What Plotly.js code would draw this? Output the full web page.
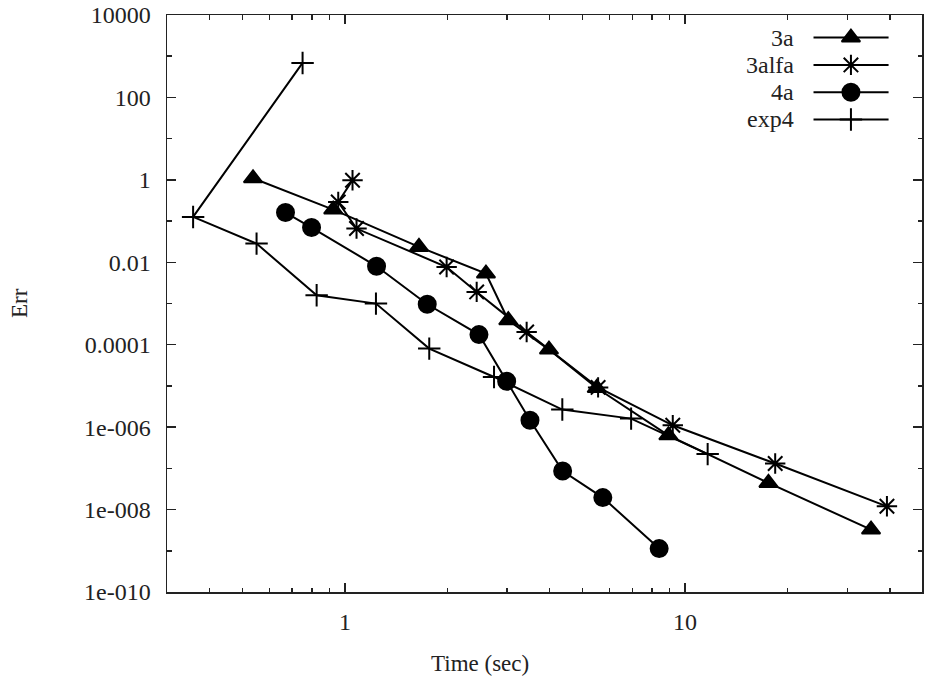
<!DOCTYPE html>
<html>
<head>
<meta charset="utf-8">
<script src="https://cdn.plot.ly/plotly-3.0.1.min.js"></script>
<style>html,body{margin:0;padding:0;background:#fff;}#chart{width:925px;height:684px;}</style>
</head>
<body>
<div id="chart"></div>
<script>
// ---- data ----
var seriesNames = ["3a", "3alfa", "4a", "exp4"];

var t3a   = [0.537, 0.924, 1.651, 2.598, 3.022, 3.98, 5.50, 8.93, 17.58, 35.2];
var err3a = [1.09, 0.190, 0.0236, 0.00532, 3.92e-4, 7.62e-5, 8.9e-6, 6.34e-7, 4.42e-8, 3.27e-9];

var t3alfa   = [1.053, 0.956, 1.082, 1.991, 2.440, 3.422, 5.55, 9.20, 18.40, 39.2];
var err3alfa = [0.977, 0.291, 0.0658, 0.00769, 0.00191, 2.04e-4, 9.2e-6, 1.11e-6, 1.31e-7, 1.20e-8];

var t4a   = [0.669, 0.798, 1.239, 1.746, 2.478, 2.989, 3.50, 4.366, 5.73, 8.39];
var err4a = [0.161, 0.0697, 0.0080, 9.57e-4, 1.76e-4, 1.30e-5, 1.47e-6, 8.63e-8, 1.95e-8, 1.13e-9];

var texp4   = [0.751, 0.358, 0.550, 0.826, 1.234, 1.770, 2.744, 4.356, 6.94, 11.65];
var errexp4 = [687, 0.126, 0.0284, 0.00158, 9.95e-4, 8.05e-5, 1.65e-5, 2.67e-6, 1.61e-6, 2.22e-7];

var xTickVals = [1, 10];
var xTickText = ["1", "10"];
var xMinorVals = [0.4, 0.5, 0.6, 0.7, 0.8, 0.9, 2, 3, 4, 5, 6, 7, 8, 9, 20, 30, 40];
var yTickVals = [1e4, 1e2, 1, 1e-2, 1e-4, 1e-6, 1e-8, 1e-10];
var yTickText = ["10000", "100", "1", "0.01", "0.0001", "1e-006", "1e-008", "1e-010"];
var yMinorVals = [1e3, 1e1, 1e-1, 1e-3, 1e-5, 1e-7, 1e-9];

// ---- styling ----
var FONT = "'Liberation Serif', 'Times New Roman', serif";
var FS = 24;
var FS_TITLE = 23;
var INK = "#000";
var symbols = {
  "3a":    {symbol: "triangle-up", size: 16},
  "3alfa": {symbol: "asterisk-open", size: 17},
  "4a":    {symbol: "circle", size: 17},
  "exp4":  {symbol: "cross-thin-open", size: 16}
};
function mk(name) {
  var s = symbols[name];
  return {symbol: s.symbol, size: s.size, color: INK, line: {color: INK, width: 2}};
}
var xs = {"3a": t3a, "3alfa": t3alfa, "4a": t4a, "exp4": texp4};
var ys = {"3a": err3a, "3alfa": err3alfa, "4a": err4a, "exp4": errexp4};

var traces = seriesNames.map(function (n) {
  return {
    type: "scatter", mode: "lines+markers", name: n,
    x: xs[n], y: ys[n],
    line: {color: INK, width: 2},
    marker: mk(n),
    cliponaxis: false,
    showlegend: false
  };
});

// ---- hand-made legend (gnuplot style: text left, sample right) ----
var L = 167.3, B = 591.7, W = 754.4, H = 577;
var rowsPx = [37.3, 64.6, 91.9, 119.2];
var annotations = [];
seriesNames.forEach(function (n, i) {
  var yy = B - rowsPx[i];
  traces.push({
    type: "scatter", mode: "lines", x: [813.3 - L, 888.3 - L], y: [yy, yy],
    xaxis: "x2", yaxis: "y2", line: {color: INK, width: 2}, showlegend: false, hoverinfo: "skip"
  });
  traces.push({
    type: "scatter", mode: "markers", x: [850.7 - L], y: [yy],
    xaxis: "x2", yaxis: "y2", marker: mk(n), showlegend: false, hoverinfo: "skip", cliponaxis: false
  });
  annotations.push({
    xref: "paper", yref: "paper", x: (796 - L) / W, y: (B - rowsPx[i]) / H,
    xanchor: "right", yanchor: "middle", text: n, showarrow: false,
    font: {family: FONT, size: FS, color: "#222"}
  });
});
annotations.push({
  xref: "paper", yref: "paper", x: (480 - L) / W, y: (B - 663) / H,
  xanchor: "center", yanchor: "middle", text: "Time (sec)", showarrow: false,
  font: {family: FONT, size: FS_TITLE, color: "#222"}
});
annotations.push({
  xref: "paper", yref: "paper", x: (20 - L) / W, y: 0.5,
  xanchor: "center", yanchor: "middle", text: "Err", textangle: -90, showarrow: false,
  font: {family: FONT, size: FS_TITLE, color: "#222"}
});

var axisCommon = {
  showgrid: false, zeroline: false, showline: true, linecolor: "#222", linewidth: 1.5,
  mirror: "allticks", ticks: "inside", ticklen: 9, tickwidth: 1.5, tickcolor: "#222",
  tickfont: {family: FONT, size: FS, color: "#222"}, tickmode: "array"
};

var layout = {
  width: 925, height: 684,
  font: {family: FONT, size: FS, color: "#222"},
  margin: {l: L, r: 925 - L - W, t: 14.7, b: 684 - B, pad: 0},
  paper_bgcolor: "#fff", plot_bgcolor: "#fff",
  showlegend: false,
  xaxis: Object.assign({}, axisCommon, {
    type: "log", range: [Math.log10(0.3), Math.log10(49.7)],
    tickvals: xTickVals, ticktext: xTickText, ticklabelstandoff: 8,
    minor: {tickmode: "array", tickvals: xMinorVals, ticks: "inside", ticklen: 4.5, tickwidth: 1.5, tickcolor: "#222"}
  }),
  yaxis: Object.assign({}, axisCommon, {
    type: "log", range: [-10, 4],
    tickvals: yTickVals, ticktext: yTickText, ticklabelstandoff: 10,
    minor: {tickmode: "array", tickvals: yMinorVals, ticks: "inside", ticklen: 4.5, tickwidth: 1.5, tickcolor: "#222"}
  }),
  xaxis2: {overlaying: "x", range: [0, W], visible: false, fixedrange: true},
  yaxis2: {overlaying: "y", range: [0, H], visible: false, fixedrange: true},
  annotations: annotations
};

Plotly.newPlot("chart", traces, layout, {displayModeBar: false, staticPlot: true});
</script>
</body>
</html>
